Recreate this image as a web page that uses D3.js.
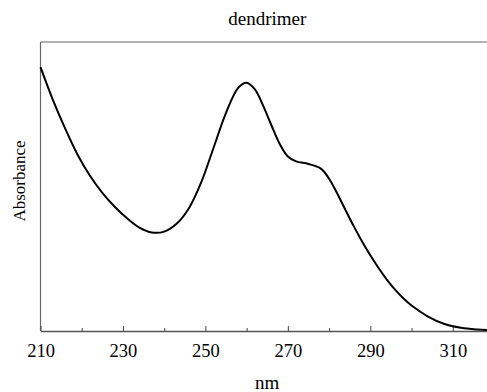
<!DOCTYPE html>
<html>
<head>
<meta charset="utf-8">
<script src="https://cdn.jsdelivr.net/npm/d3@7"></script>
<style>
  html, body { margin: 0; padding: 0; background: #fff; }
  svg { display: block; }
  text { font-family: "Liberation Serif", "Times New Roman", serif; fill: #000; }
</style>
</head>
<body>
<div id="chart"></div>
<script>
// spectrum (absorbance in arbitrary units, 0 = baseline)
const wavelength = [210, 213, 216, 219, 222, 225, 228, 231, 234, 237, 240, 243, 246, 249, 252, 255, 258, 260, 262, 264, 266, 268, 270, 272, 275, 278, 280, 282, 284, 286, 288, 290, 292, 294, 296, 298, 300, 304, 308, 312, 316, 320];
const absorbance = [0.913, 0.800, 0.700, 0.610, 0.537, 0.478, 0.430, 0.390, 0.358, 0.341, 0.344, 0.371, 0.425, 0.515, 0.635, 0.755, 0.842, 0.859, 0.836, 0.780, 0.712, 0.648, 0.604, 0.587, 0.578, 0.562, 0.527, 0.475, 0.418, 0.362, 0.310, 0.262, 0.218, 0.178, 0.143, 0.113, 0.088, 0.050, 0.024, 0.011, 0.005, 0.002];
const majorTicks = [210, 230, 250, 270, 290, 310];
const minorTicks = [220, 240, 260, 280, 300, 320];

const width = 487, height = 392;
const plotLeft = 40.5, plotRight = 494, plotTop = 42, plotBottom = 331;

const svg = d3.select('#chart').append('svg')
  .attr('width', width)
  .attr('height', height)
  .attr('font-family', '"Liberation Serif", serif');

const x = d3.scaleLinear().domain([210, 320]).range([plotLeft, plotRight]);
const y = d3.scaleLinear().domain([0, 1]).range([plotBottom, plotTop]);

// frame (top + left)
svg.append('line')
  .attr('x1', plotLeft).attr('x2', plotRight)
  .attr('y1', plotTop).attr('y2', plotTop)
  .attr('stroke', '#666').attr('stroke-width', 1.2);
svg.append('line')
  .attr('x1', plotLeft).attr('x2', plotLeft)
  .attr('y1', plotTop).attr('y2', plotBottom)
  .attr('stroke', '#666').attr('stroke-width', 1.2);

// x axis, ticks pointing inward
const gx = svg.append('g')
  .attr('transform', `translate(0,${plotBottom})`)
  .call(d3.axisBottom(x).tickValues(majorTicks).tickSizeInner(-5).tickSizeOuter(0).tickPadding(13));
gx.attr('font-family', '"Liberation Serif", serif');
gx.select('.domain').attr('stroke', '#555').attr('stroke-width', 1.5);
gx.selectAll('.tick line').attr('stroke', '#444');
gx.selectAll('.tick text')
  .style('font-family', '"Liberation Serif", serif')
  .style('font-size', '18.5px');

svg.append('g')
  .attr('transform', `translate(0,${plotBottom})`)
  .call(d3.axisBottom(x).tickValues(minorTicks).tickSizeInner(-3).tickSizeOuter(0).tickFormat(''))
  .call(g => g.select('.domain').remove())
  .selectAll('.tick line').attr('stroke', '#444');

// spectrum
const line = d3.line()
  .x((d, i) => x(wavelength[i]))
  .y(d => y(d))
  .curve(d3.curveCatmullRom.alpha(0.5));

svg.append('path')
  .datum(absorbance)
  .attr('fill', 'none')
  .attr('stroke', '#000')
  .attr('stroke-width', 2)
  .attr('d', line);

// labels
svg.append('text')
  .attr('x', (plotLeft + plotRight) / 2).attr('y', 25)
  .attr('text-anchor', 'middle')
  .style('font-size', '19px')
  .text('dendrimer');

svg.append('text')
  .attr('x', (plotLeft + plotRight) / 2).attr('y', 389)
  .attr('text-anchor', 'middle')
  .style('font-size', '19px')
  .text('nm');

svg.append('text')
  .attr('transform', 'translate(25,181) rotate(-90)')
  .attr('text-anchor', 'middle')
  .style('font-size', '17px')
  .text('Absorbance');
</script>
</body>
</html>
